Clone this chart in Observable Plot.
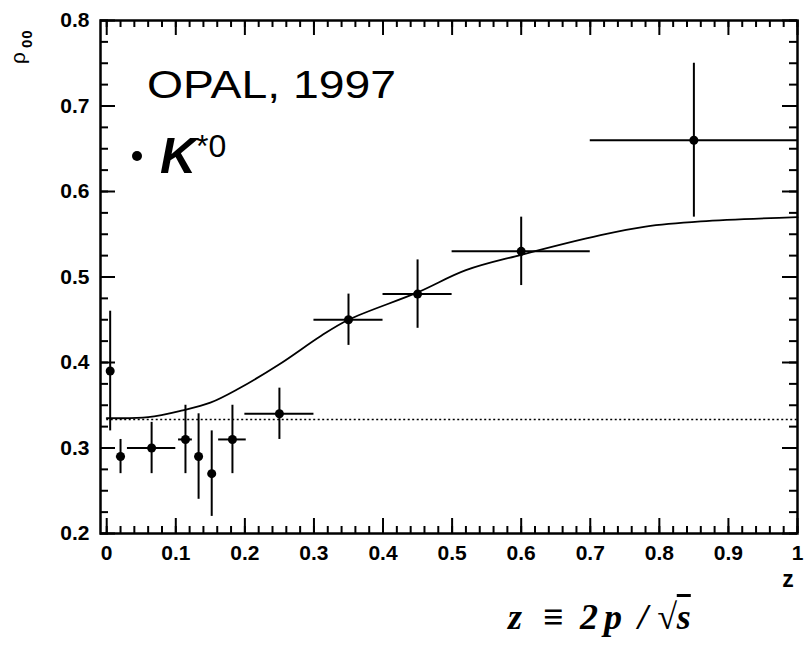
<!DOCTYPE html>
<html>
<head>
<meta charset="utf-8">
<script src="https://cdn.jsdelivr.net/npm/d3@7"></script>
<script src="https://cdn.jsdelivr.net/npm/@observablehq/plot@0.6"></script>
<style>
  html, body { margin: 0; padding: 0; background: white; }
  #wrap { position: relative; width: 804px; height: 663px; overflow: hidden; }
  .ann { position: absolute; line-height: 1; white-space: nowrap; margin: 0; color: black;
         font-family: 'Liberation Sans', Arial, Helvetica, sans-serif; }
  .serif { font-family: 'Liberation Serif', 'Times New Roman', serif; font-weight: bold; font-style: italic; }
</style>
</head>
<body>
<div id="wrap"><div id="chart"></div></div>
<script>
// Data points: z, rho00, horizontal half-width, vertical error
const zVals   = [0.005, 0.02, 0.065, 0.114, 0.133, 0.152, 0.182, 0.25, 0.35, 0.45, 0.60, 0.85];
const rhoVals = [0.39, 0.29, 0.30, 0.31, 0.29, 0.27, 0.31, 0.34, 0.45, 0.48, 0.53, 0.66];
const zErr    = [0.004, 0.006, 0.035, 0.01, 0.005, 0.005, 0.02, 0.05, 0.05, 0.05, 0.10, 0.15];
const rhoErr  = [0.07, 0.02, 0.03, 0.04, 0.05, 0.05, 0.04, 0.03, 0.03, 0.04, 0.04, 0.09];

// Model curve
const fitZ   = [0, 0.06, 0.11, 0.15, 0.19, 0.25, 0.31, 0.35, 0.45, 0.52, 0.60, 0.715, 0.78, 0.86, 1.0];
const fitRho = [0.335, 0.336, 0.344, 0.353, 0.369, 0.398, 0.431, 0.45, 0.482, 0.508, 0.526, 0.549, 0.559, 0.565, 0.570];

// Reference level
const unpolarised = [1 / 3];

// Axis domains and ticks
const xDomain = [-0.009, 1];
const yDomain = [0.2, 0.8];
const xMajor = d3.range(0, 11).map(i => i / 10);
const xMinor = d3.range(0, 51).map(i => i / 50);
const yMajor = d3.range(2, 9).map(i => i / 10);
const yMinor = d3.range(0, 25).map(i => 0.2 + i * 0.025);
const xTickLabels = ["0", "0.1", "0.2", "0.3", "0.4", "0.5", "0.6", "0.7", "0.8", "0.9", "1"];
const yTickLabels = ["0.2", "0.3", "0.4", "0.5", "0.6", "0.7", "0.8"];

// Texts
const titleText = "OPAL, 1997";
const particleText = "K";
const particleSup = "*0";
const yLabelMain = "ρ";
const yLabelSub = "00";
const xLabelText = "z";
const formulaText = "z ≡ 2 p / √s";

const points = zVals.map((z, i) => ({z, rho: rhoVals[i], dz: zErr[i], drho: rhoErr[i]}));
const fit = fitZ.map((z, i) => ({z, rho: fitRho[i]}));

const W = 804, H = 663, ML = 100, MR = 7, MT = 20, MB = 130;
const sans = "'Liberation Sans', Arial, Helvetica, sans-serif";

// inward tick lengths converted from pixels to data units
const perPxX = (xDomain[1] - xDomain[0]) / (W - ML - MR);
const perPxY = (yDomain[1] - yDomain[0]) / (H - MT - MB);
const tk = {stroke: "black", strokeWidth: 2};
const [x0, x1] = xDomain, [y0, y1] = yDomain;
const xTicks = (ticks, px, atTop) => Plot.ruleX(ticks, {x: d => d,
  y1: () => atTop ? y1 : y0, y2: () => atTop ? y1 - px * perPxY : y0 + px * perPxY, ...tk, className: "tickmk"});
const yTicks = (ticks, px, atRight) => Plot.ruleY(ticks, {y: d => d,
  x1: () => atRight ? x1 : x0, x2: () => atRight ? x1 - px * perPxX : x0 + px * perPxX, ...tk, className: "tickmk"});

const plot = Plot.plot({
  width: W, height: H,
  marginLeft: ML, marginRight: MR, marginTop: MT, marginBottom: MB,
  style: {fontFamily: sans, background: "white", color: "black", overflow: "visible"},
  x: {domain: xDomain, axis: null},
  y: {domain: yDomain, axis: null},
  marks: [
    Plot.frame({stroke: "black", fill: "none", strokeWidth: 2.5}),
    xTicks(xMinor, 7, false), xTicks(xMajor, 15, false),
    xTicks(xMinor, 7, true), xTicks(xMajor, 15, true),
    yTicks(yMinor, 8, false), yTicks(yMajor, 15, false),
    yTicks(yMinor, 8, true), yTicks(yMajor, 15, true),
    Plot.axisX({ticks: xMajor, anchor: "bottom", tickSize: 0, tickPadding: 12, fontSize: 21, fontWeight: "bold",
      tickFormat: (d, i) => xTickLabels[i], label: null}),
    Plot.axisY({ticks: yMajor, anchor: "left", tickSize: 0, tickPadding: 11, fontSize: 21, fontWeight: "bold",
      tickFormat: (d, i) => yTickLabels[i], label: null}),
    Plot.ruleY(unpolarised, {x1: 0, x2: 1, stroke: "black", strokeWidth: 1.5, strokeDasharray: "2,2.5"}),
    Plot.line(fit, {x: "z", y: "rho", curve: "catmull-rom", stroke: "black", strokeWidth: 1.8}),
    Plot.ruleY(points, {y: "rho", x1: d => d.z - d.dz, x2: d => d.z + d.dz, stroke: "black", strokeWidth: 2}),
    Plot.ruleX(points, {x: "z", y1: d => d.rho - d.drho, y2: d => d.rho + d.drho, stroke: "black", strokeWidth: 2}),
    Plot.dot(points, {x: "z", y: "rho", r: 4.5, fill: "black", stroke: "none"})
  ]
});
document.getElementById("chart").appendChild(plot);

// ---- text annotations as HTML overlays ----
const wrap = document.getElementById("wrap");
function ann(text, css, cls = "ann") {
  const el = document.createElement("div");
  el.className = cls;
  if (text !== null) el.textContent = text;
  Object.assign(el.style, css);
  wrap.appendChild(el);
  return el;
}
// title, horizontally widened like the reference face
ann(titleText, {left: "147px", top: "66px", fontSize: "38px", transform: "scaleX(1.22)", transformOrigin: "0 0"});
// legend bullet + K*0
ann(null, {left: "132px", top: "151px", width: "10px", height: "10px", borderRadius: "50%", background: "black"});
ann(particleText, {left: "160px", top: "131px", fontSize: "50px", fontWeight: "bold", fontStyle: "italic"});
ann(particleSup, {left: "196px", top: "130px", fontSize: "32px"});
// rotated y label  ρ00
const yl = ann(yLabelMain, {left: "7px", top: "64px", fontSize: "21px", transform: "rotate(-90deg)", transformOrigin: "0 0"});
const sub = document.createElement("span");
sub.textContent = yLabelSub;
Object.assign(sub.style, {fontSize: "15px", fontWeight: "bold", verticalAlign: "-7px", marginLeft: "4px", letterSpacing: "1px"});
yl.appendChild(sub);
// x label
ann(xLabelText, {left: "777px", top: "568px", width: "22px", textAlign: "center", fontSize: "23px", fontWeight: "bold"});
// formula pieces
const formulaParts = formulaText.split(" ");
const formulaLeft = [508, 543, 580, 604, 638, 657];
formulaParts.forEach((p, i) => {
  const el = ann(null, {left: formulaLeft[i] + "px", top: "599px", fontSize: "36px"}, "ann serif");
  if (p.startsWith("√")) {
    el.appendChild(document.createTextNode("√"));
    const s = document.createElement("span");
    s.textContent = p.slice(1);
    s.style.textDecoration = "overline";
    el.appendChild(s);
  } else {
    el.textContent = p;
  }
});
</script>
</body>
</html>
